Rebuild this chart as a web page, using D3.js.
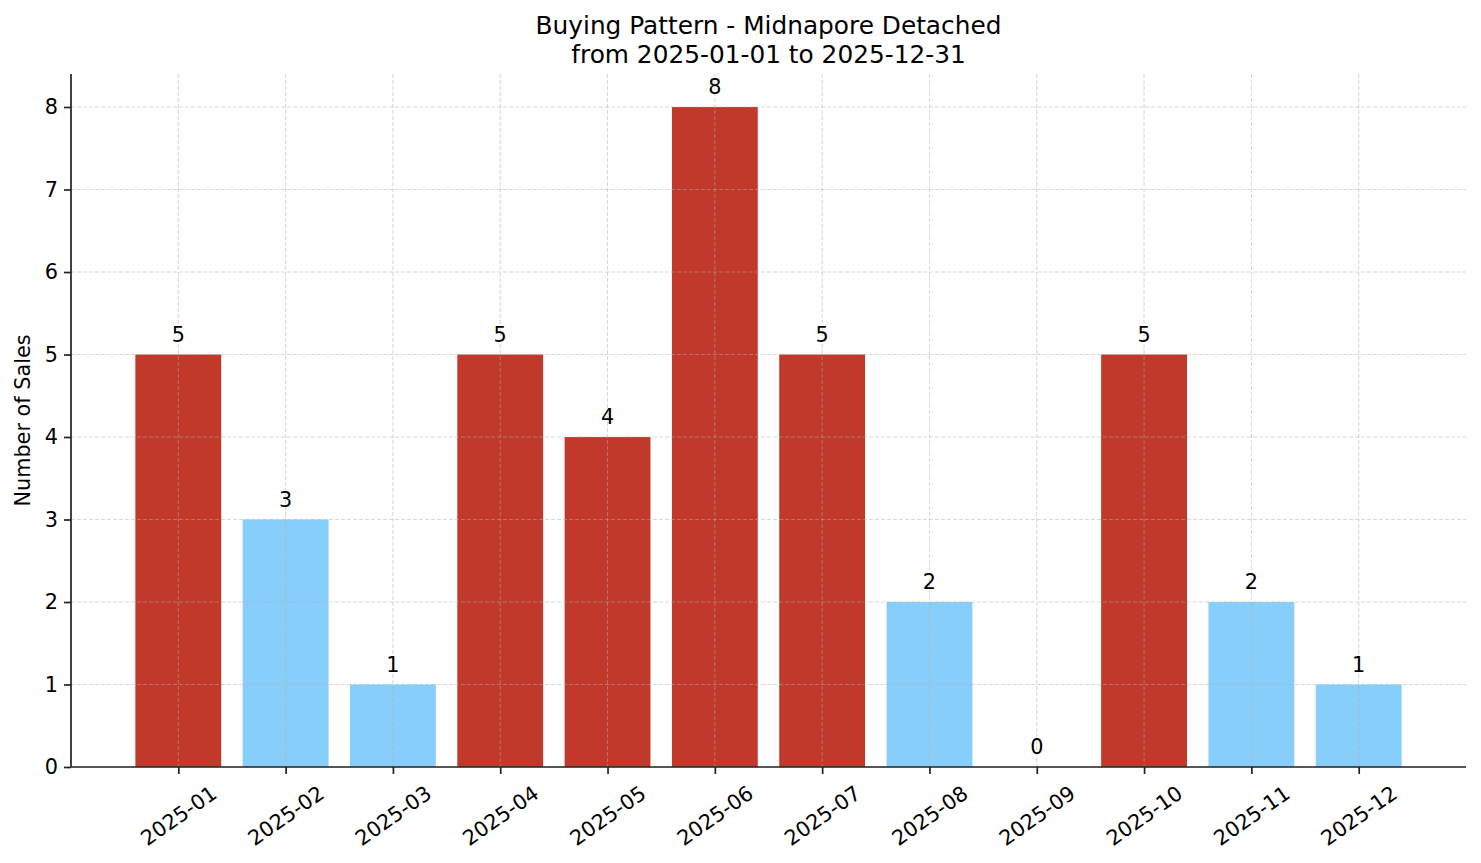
<!DOCTYPE html>
<html>
<head>
<meta charset="utf-8">
<script src="https://cdn.jsdelivr.net/npm/d3@7"></script>
<style>
  body { margin: 0; background: #fff; }
  svg text { font-family: "DejaVu Sans", sans-serif; fill: #000; }
</style>
</head>
<body>
<div id="chart"></div>
<script>
// chart data
var months = ["2025-01", "2025-02", "2025-03", "2025-04", "2025-05", "2025-06",
              "2025-07", "2025-08", "2025-09", "2025-10", "2025-11", "2025-12"];
var sales = [5, 3, 1, 5, 4, 8, 5, 2, 0, 5, 2, 1];
var yTicks = [0, 1, 2, 3, 4, 5, 6, 7, 8];
var titleLines = ["Buying Pattern - Midnapore Detached", "from 2025-01-01 to 2025-12-31"];

var W = 1481, H = 863;
var margin = { top: 74, right: 15, bottom: 96, left: 71 };
var width = W - margin.left - margin.right,
    height = H - margin.top - margin.bottom;

var svg = d3.select("#chart").append("svg")
    .attr("width", W).attr("height", H);

// title
svg.append("text")
    .attr("x", margin.left + width / 2)
    .attr("y", 34)
    .attr("text-anchor", "middle")
    .style("font-size", "24.8px")
    .selectAll("tspan")
    .data(titleLines)
    .enter().append("tspan")
    .attr("x", margin.left + width / 2)
    .attr("dy", function (d, i) { return i === 0 ? 0 : 28.5; })
    .text(function (d) { return d; });

var chart = svg.append("g")
    .attr("transform", "translate(" + margin.left + "," + margin.top + ")");

// scales: index based like matplotlib, xlim [-1, 12]
var xScale = d3.scaleLinear().domain([-1, months.length]).range([0, width]);
var yScale = d3.scaleLinear().domain([0, 8.4]).range([height, 0]);
var step = xScale(1) - xScale(0);
var barW = step * 0.8;

var mean = d3.mean(sales);
function barColor(v) { return v > mean ? "#c0392b" : "#87cefa"; }

// bars
chart.selectAll(".bar")
    .data(sales)
    .enter()
    .append("rect")
    .attr("class", "bar")
    .attr("x", function (d, i) { return xScale(i) - barW / 2; })
    .attr("y", function (d) { return yScale(d); })
    .attr("width", barW)
    .attr("height", function (d) { return height - yScale(d); })
    .attr("fill", barColor);

// grid (drawn over bars)
var grid = chart.append("g").attr("class", "grid");
grid.selectAll(".hg")
    .data(yTicks)
    .enter().append("line")
    .attr("x1", 0).attr("x2", width)
    .attr("y1", function (d) { return yScale(d); })
    .attr("y2", function (d) { return yScale(d); });
grid.selectAll(".vg")
    .data(months)
    .enter().append("line")
    .attr("x1", function (d, i) { return xScale(i); })
    .attr("x2", function (d, i) { return xScale(i); })
    .attr("y1", 0).attr("y2", height);
grid.selectAll("line")
    .attr("stroke", "#b0b0b0")
    .attr("stroke-opacity", 0.5)
    .attr("stroke-width", 1)
    .attr("stroke-dasharray", "4,2");

// value labels
chart.selectAll(".val")
    .data(sales)
    .enter().append("text")
    .attr("class", "val")
    .attr("x", function (d, i) { return xScale(i); })
    .attr("y", function (d) { return yScale(d) - 13; })
    .attr("text-anchor", "middle")
    .style("font-size", "20.8px")
    .text(function (d) { return d; });

// y axis
var yAxis = chart.append("g")
    .attr("class", "y axis")
    .call(d3.axisLeft(yScale).tickValues(yTicks).tickSize(7).tickPadding(6));

// x axis
var xAxis = chart.append("g")
    .attr("class", "x axis")
    .attr("transform", "translate(0," + height + ")")
    .call(d3.axisBottom(xScale)
        .tickValues(d3.range(months.length))
        .tickFormat(function (i) { return months[i]; })
        .tickSize(7));

chart.selectAll(".axis .domain").attr("stroke", "#222").attr("stroke-width", 1.7);
chart.selectAll(".axis .tick line").attr("stroke", "#222").attr("stroke-width", 1.7);
chart.selectAll(".axis text").style("font-size", "20.8px").attr("fill", "#000");
// straight domain ends, no outer ticks
yAxis.select(".domain").attr("d", "M0," + height + "V0");
xAxis.select(".domain").attr("d", "M0,0H" + width);

// rotate x labels 35 degrees, centred under tick like matplotlib ha=center
var ang = 35 * Math.PI / 180;
xAxis.selectAll(".tick text").each(function () {
    var t = d3.select(this);
    var w = this.getComputedTextLength();
    var lh = 24;
    var bh = w * Math.sin(ang) + lh * Math.cos(ang);
    t.attr("x", 0).attr("y", 0).attr("dy", null)
        .attr("dominant-baseline", "central")
        .attr("text-anchor", "middle")
        .attr("transform", "translate(0," + (14 + bh / 2) + ") rotate(-35)");
});

// y label, centred on the axis
svg.append("text")
    .attr("transform", "translate(30," + (margin.top + height / 2) + ") rotate(-90)")
    .attr("text-anchor", "middle")
    .style("font-size", "20.8px")
    .text("Number of Sales");
</script>
</body>
</html>
